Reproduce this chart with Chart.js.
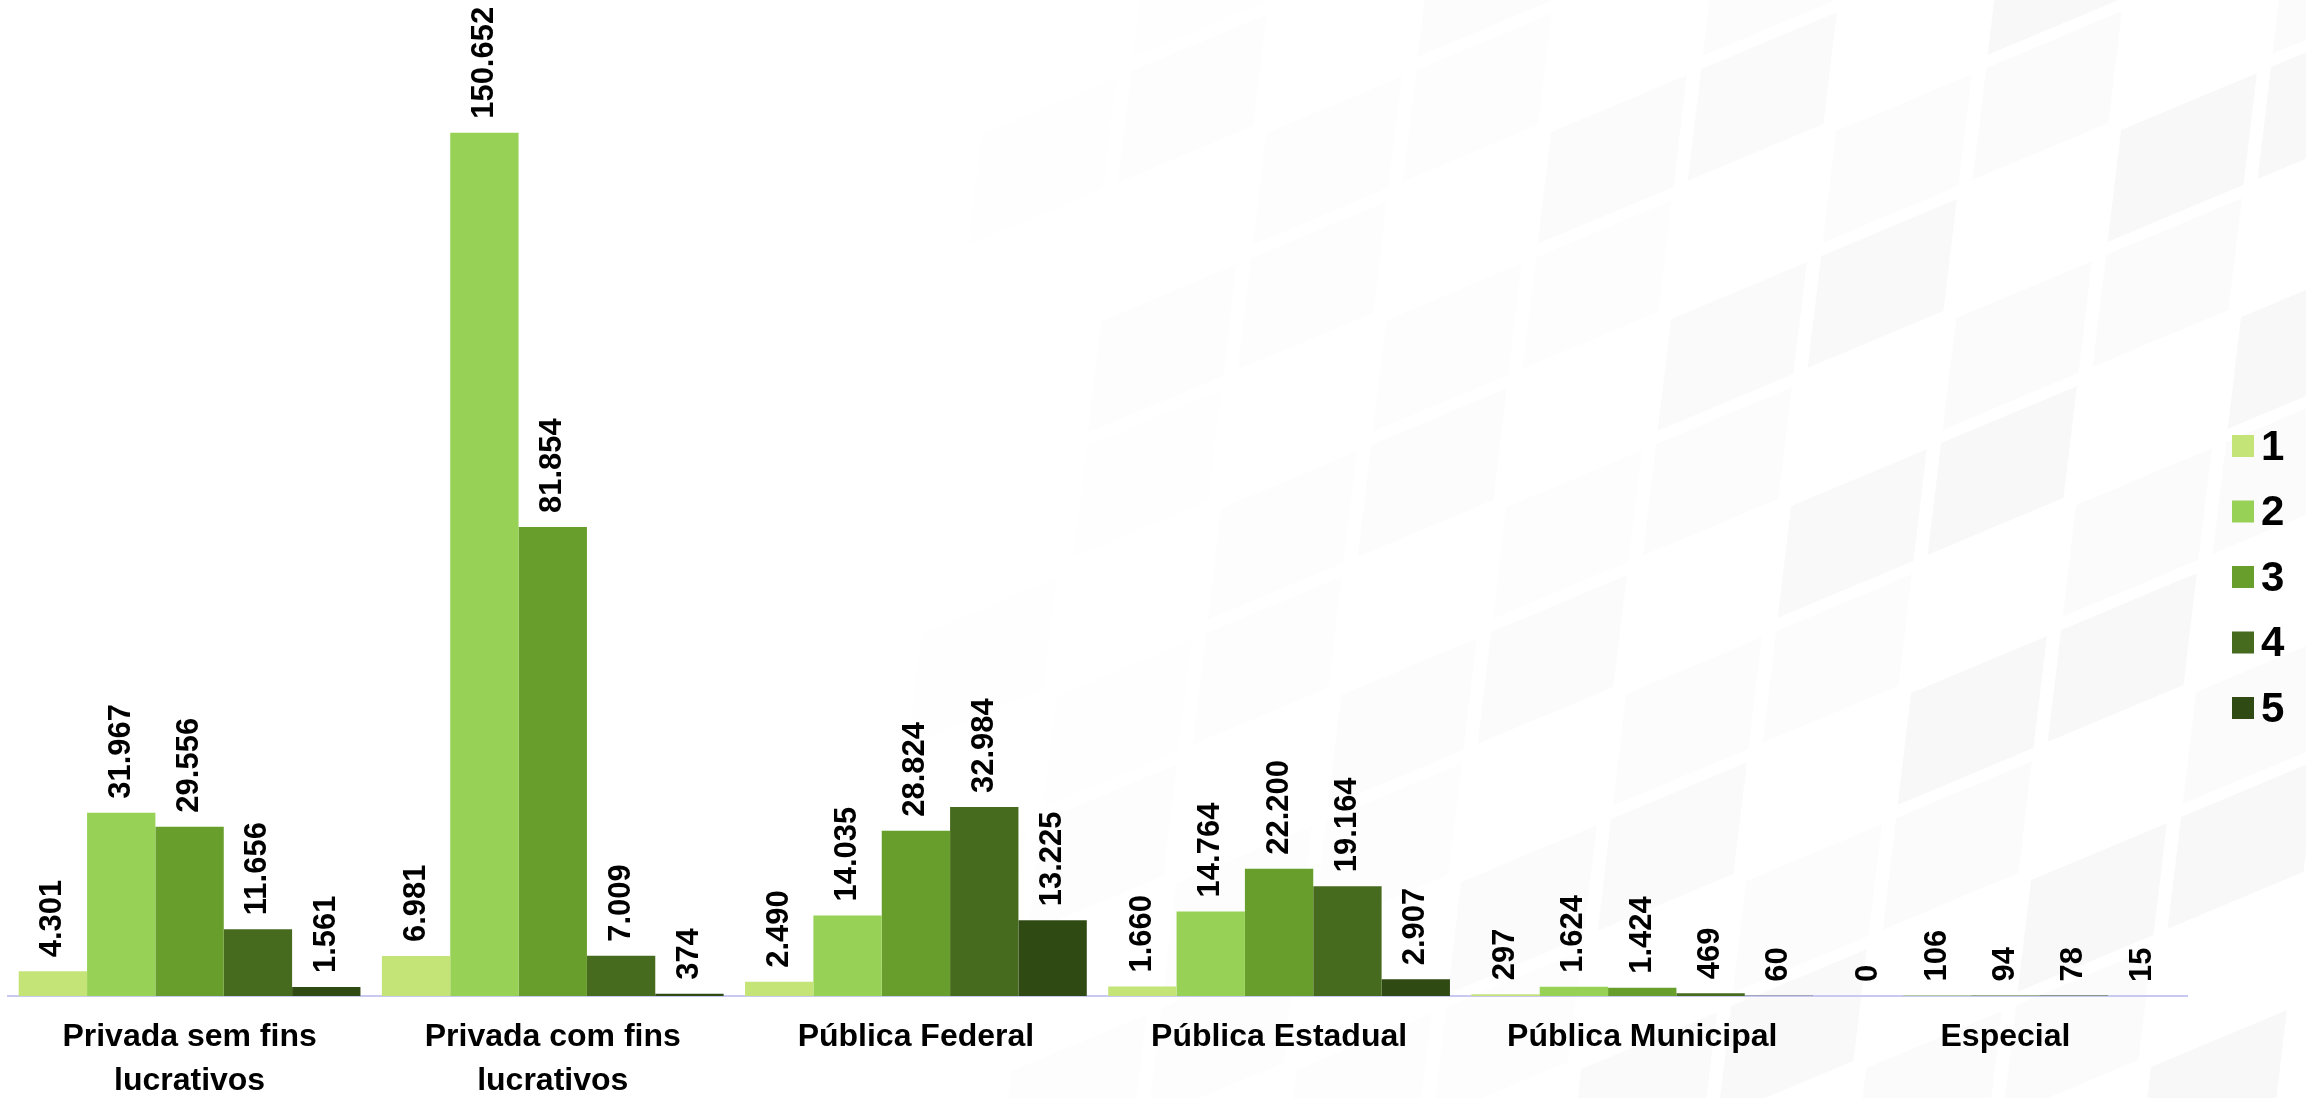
<!DOCTYPE html>
<html>
<head>
<meta charset="utf-8">
<script src="https://cdn.jsdelivr.net/npm/chart.js@4.4.1/dist/chart.umd.min.js"></script>
<style>
  html, body { margin: 0; padding: 0; background: #fff; overflow: hidden; }
  canvas { display: block; }
</style>
</head>
<body>
<canvas id="chart" width="2306" height="1122"></canvas>
<script>
// categories and the five series
const categories = [
    ['Privada sem fins', 'lucrativos'],
    ['Privada com fins', 'lucrativos'],
    'Pública Federal',
    'Pública Estadual',
    'Pública Municipal',
    'Especial'
];
const seriesNames = ['1', '2', '3', '4', '5'];
const serie1 = [4301, 6981, 2490, 1660, 297, 0];
const serie2 = [31967, 150652, 14035, 14764, 1624, 106];
const serie3 = [29556, 81854, 28824, 22200, 1424, 94];
const serie4 = [11656, 7009, 32984, 19164, 469, 78];
const serie5 = [1561, 374, 13225, 2907, 60, 15];
const colors = ['#c4e478', '#97d256', '#689e2b', '#466b1e', '#304a14'];

// condensed face for the category names when it is installed
function fontAvailable(name) {
    const c = document.createElement('canvas').getContext('2d');
    c.font = 'bold 40px monospace';
    const a = c.measureText('Privada sem fins').width;
    c.font = 'bold 40px "' + name + '", monospace';
    return c.measureText('Privada sem fins').width !== a;
}
const narrow = fontAvailable('Liberation Sans Narrow');
const tickFont = narrow
    ? { family: '"Liberation Sans Narrow"', size: 37, weight: 'bold', lineHeight: '44px' }
    : { family: '"Liberation Sans", Arial', size: 32, weight: 'bold', lineHeight: '44px' };

const fmt = v => String(v).replace(/\B(?=(\d{3})+(?!\d))/g, '.');

// vertical value labels above every bar
const barLabels = {
    id: 'barLabels',
    afterDatasetsDraw(chart) {
        const ctx = chart.ctx;
        ctx.save();
        ctx.fillStyle = '#000';
        ctx.font = 'bold 31px "Liberation Sans", Arial, sans-serif';
        ctx.textAlign = 'left';
        ctx.textBaseline = 'middle';
        chart.data.datasets.forEach((ds, i) => {
            chart.getDatasetMeta(i).data.forEach((bar, j) => {
                ctx.save();
                ctx.translate(bar.x, bar.y - 14);
                ctx.rotate(-Math.PI / 2);
                ctx.fillText(fmt(ds.data[j]), 0, 0);
                ctx.restore();
            });
        });
        ctx.restore();
    }
};

// legend column on the right
const sideLegend = {
    id: 'sideLegend',
    afterDraw(chart) {
        const ctx = chart.ctx;
        ctx.save();
        ctx.font = 'bold 42px "Liberation Sans", Arial, sans-serif';
        ctx.textBaseline = 'middle';
        ctx.textAlign = 'left';
        chart.data.datasets.forEach((ds, i) => {
            const y = 446 + i * 65.5;
            ctx.fillStyle = ds.backgroundColor;
            ctx.fillRect(2232, y - 11, 22, 22);
            ctx.fillStyle = '#000';
            ctx.fillText(ds.label, 2261, y + 2);
        });
        ctx.restore();
    }
};

// white page with a faint skewed block pattern behind the plot
const background = {
    id: 'background',
    beforeDraw(chart) {
        const ctx = chart.ctx;
        ctx.save();
        ctx.fillStyle = '#fff';
        ctx.fillRect(0, 0, chart.width, chart.height);
        ctx.setTransform(1, -0.42, -0.12, 1, 0, 0);
        for (let cx = 900; cx < 2500; cx += 150) {
            const a = Math.max(0, Math.min(1, (cx - 900) / 1200)) * 0.026;
            for (let cy = 200, k = 0; cy < 2200; cy += 125, k++) {
                if ((k + cx / 150) % 3 === 0) continue;
                ctx.fillStyle = 'rgba(0,0,0,' + (a * (k % 2 ? 1 : 0.6)).toFixed(4) + ')';
                ctx.fillRect(cx, cy, 136, 112);
            }
        }
        ctx.restore();
    }
};

const allSeries = [serie1, serie2, serie3, serie4, serie5];

new Chart(document.getElementById('chart'), {
    type: 'bar',
    data: {
        labels: categories,
        datasets: allSeries.map((d, i) => ({
            label: seriesNames[i],
            data: d,
            backgroundColor: colors[i],
            barPercentage: 1,
            categoryPercentage: 0.941
        }))
    },
    options: {
        responsive: false,
        animation: false,
        devicePixelRatio: 1,
        layout: { padding: { top: 22, left: 8, right: 119, bottom: 0 } },
        plugins: {
            legend: { display: false },
            tooltip: { enabled: false }
        },
        scales: {
            x: {
                grid: { display: false, drawTicks: false },
                border: { display: true, color: '#c8c8f0', width: 2 },
                ticks: { color: '#000', font: tickFont, padding: 19, maxRotation: 0, autoSkip: false }
            },
            y: { display: false, min: 0, max: 170000 }
        }
    },
    plugins: [background, barLabels, sideLegend]
});
</script>
</body>
</html>
